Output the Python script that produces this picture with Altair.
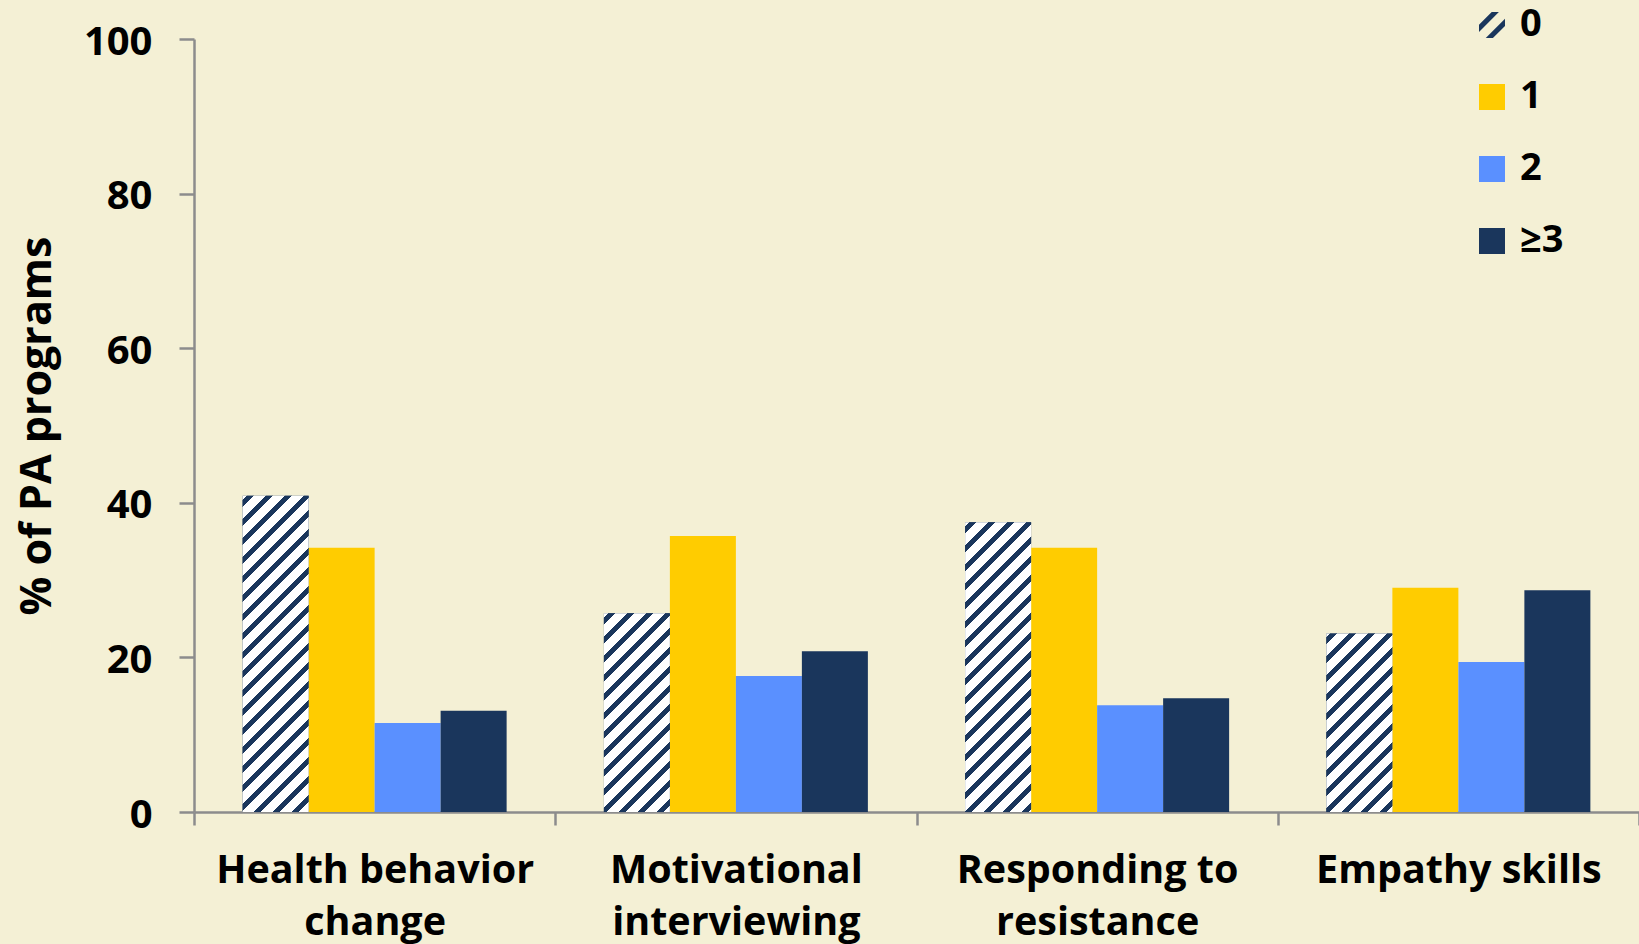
import altair as alt
import pandas as pd

# ---- data ----
categories = ["Health behavior change", "Motivational interviewing",
              "Responding to resistance", "Empathy skills"]
label_lines = [["Health behavior", "change"], ["Motivational", "interviewing"],
               ["Responding to", "resistance"], ["Empathy skills"]]
series = ["0", "1", "2", "≥3"]
vals_0 = [40.9, 25.7, 37.5, 23.1]
vals_1 = [34.2, 35.7, 34.2, 29.0]
vals_2 = [11.5, 17.6, 13.8, 19.4]
vals_3 = [13.1, 20.8, 14.7, 28.7]
y_ticks = [0, 20, 40, 60, 80, 100]

series_vals = [vals_0, vals_1, vals_2, vals_3]
rows = []
for si, s in enumerate(series):
    for ci, c in enumerate(categories):
        rows.append({"category": c, "series": s, "value": series_vals[si][ci]})
df = pd.DataFrame(rows)

# ---- styling ----
BG = "#F4F0D5"
NAVY = "#1A365C"
colors = [NAVY, "#FFCC00", "#5A90FF", NAVY]
AXIS_GRAY = "#8C8C8C"
FONT = "Open Sans"
W, H = 1445, 773
PAD_L, PAD_T = 194, 39
OUTER = 0.7367
BAR_W = (W / 4) / (4 + 2 * OUTER)
PERIOD, STRIPE = 19.0, 7.0

stripe_path = ("M -1 -0.02 L -0.02 -1 L 0.53 -1 L -1 0.53 Z "
               "M 1 -0.48 L -0.48 1 L 0.07 1 L 1 0.07 Z")


def hatch_fill(value):
    w = BAR_W
    h = value / 100.0 * H
    L = w + h
    k = (w + h) / (w * w + h * h)
    stops = []
    i = 0
    while i * PERIOD < L:
        a = min(1.0, (i * PERIOD + 4) / L)
        b = min(1.0, (i * PERIOD + 4 + STRIPE) / L)
        stops += [{"offset": a, "color": "white"}, {"offset": a, "color": NAVY},
                  {"offset": b, "color": NAVY}, {"offset": b, "color": "white"}]
        i += 1
    stops = [{"offset": 0, "color": "white"}] + stops + [{"offset": 1, "color": "white"}]
    return {"gradient": "linear", "x1": 0, "y1": 0, "x2": k * w, "y2": k * h,
            "stops": stops}


label_expr = ""
for c, lines in zip(categories, label_lines):
    arr = "[" + ",".join("'" + l + "'" for l in lines) + "]"
    label_expr += f"datum.value == '{c}' ? {arr} : "
label_expr += "datum.value"

legend = alt.Legend(title=None, orient="none", legendX=1279, legendY=-33,
                    symbolSize=676, labelFont=FONT, labelFontSize=38,
                    labelFontWeight="bold", labelColor="black", labelOffset=9,
                    rowPadding=34, padding=0, symbolStrokeWidth=0)

x_enc = alt.X("category:N", sort=categories,
              scale=alt.Scale(domain=categories, paddingInner=0, paddingOuter=0),
              axis=alt.Axis(title=None, labelAngle=0, tickBand="extent",
                            labelExpr=label_expr, labelFont=FONT, labelFontSize=39.5,
                            labelFontWeight="bold", labelColor="black",
                            labelLineHeight=52, labelPadding=26, labelLimit=0,
                            labelBaseline="top", tickSize=13, tickColor=AXIS_GRAY,
                            tickWidth=2.5, domainColor=AXIS_GRAY, domainWidth=2.5,
                            labelOverlap=False))
xo_enc = alt.XOffset("series:N", sort=series,
                     scale=alt.Scale(domain=series, paddingInner=0, paddingOuter=OUTER))
y_axis = alt.Axis(values=y_ticks, grid=False, tickSize=15, tickColor=AXIS_GRAY,
                  tickWidth=2.5, domainColor=AXIS_GRAY, domainWidth=2.5,
                  labelFont=FONT, labelFontSize=40, labelFontWeight="bold",
                  labelColor="black", labelPadding=27, labelOffset=3,
                  title="% of PA programs", titleFont=FONT, titleFontSize=43,
                  titleFontWeight="bold", titleColor="black", titleAngle=270,
                  titleX=-157, titleY=H / 2, titleAlign="center",
                  titleBaseline="middle")
y_scale = alt.Scale(domain=[0, 100], nice=False)

base = alt.Chart(df)

points = base.transform_calculate(half="datum.value / 2").mark_point(
    filled=True, opacity=1, size=676, strokeWidth=0
).encode(
    x=x_enc, xOffset=xo_enc,
    y=alt.Y("half:Q", scale=y_scale, axis=y_axis),
    color=alt.Color("series:N", sort=series,
                    scale=alt.Scale(domain=series, range=colors), legend=legend),
    shape=alt.Shape("series:N", sort=series,
                    scale=alt.Scale(domain=series,
                                    range=[stripe_path, "square", "square", "square"]),
                    legend=legend),
)

bars = base.mark_bar().encode(
    x=x_enc, xOffset=xo_enc,
    y=alt.Y("value:Q", scale=y_scale, axis=y_axis),
    color=alt.Color("series:N", sort=series,
                    scale=alt.Scale(domain=series, range=colors), legend=legend),
)

hatched = []
for c, v in zip(categories, vals_0):
    hatched.append(
        base.transform_filter((alt.datum.category == c) & (alt.datum.series == "0"))
        .mark_bar(fill=hatch_fill(v))
        .encode(x=x_enc, xOffset=xo_enc,
                y=alt.Y("value:Q", scale=y_scale, axis=y_axis))
    )

chart = alt.layer(points, bars, *hatched).properties(
    width=W, height=H, background=BG,
    padding={"left": PAD_L, "top": PAD_T, "right": 0, "bottom": 944 - PAD_T - H},
    autosize=alt.AutoSizeParams(type="none"),
).configure_view(stroke=None)

chart.save("out.html", embed_options={"renderer": "svg", "actions": False})
